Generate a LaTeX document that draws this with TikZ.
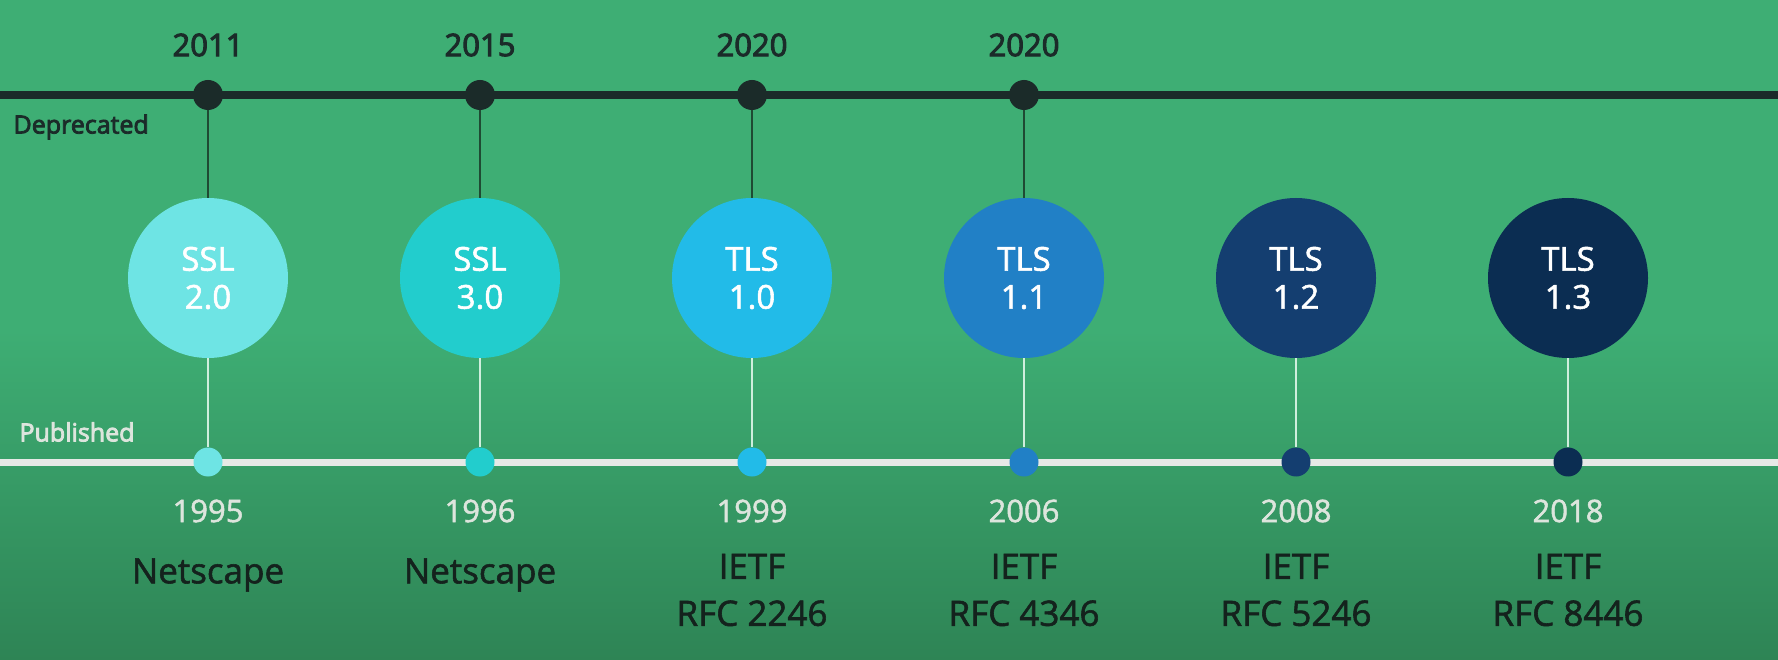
\documentclass[tikz,border=0pt]{standalone}
\usepackage{fontspec}
\setmainfont{Open Sans}
\newfontfamily\semifont{Open Sans}[FakeBold=3.2]
\newfontfamily\medfont{Open Sans}[FakeBold=1.6]

\definecolor{bgtop}{HTML}{3EAE74}
\definecolor{bgbot}{HTML}{2E8455}
\definecolor{darkline}{HTML}{1B2B29}
\definecolor{lightline}{HTML}{E6E9E6}
\definecolor{upconn}{HTML}{1F4A33}
\definecolor{downconn}{HTML}{CFEEDD}
\definecolor{ssltwo}{HTML}{6EE4E4}
\definecolor{sslthree}{HTML}{22CDCD}
\definecolor{tlsten}{HTML}{22BBE8}
\definecolor{tlseleven}{HTML}{2180C6}
\definecolor{tlstwelve}{HTML}{143E70}
\definecolor{tlsthirteen}{HTML}{0B2D52}
\definecolor{yeargray}{HTML}{DDE5DD}
\definecolor{orgdark}{HTML}{14221D}

\tikzset{
  depdot/.style={circle,fill=darkline,minimum size=30pt,inner sep=0pt},
  pubdot/.style={circle,minimum size=29pt,inner sep=0pt},
  version/.style={circle,minimum size=160pt,inner sep=0pt,text=white,align=center,
    font=\medfont\fontsize{33}{38}\selectfont},
  depyear/.style={text=darkline,font=\semifont\fontsize{31}{36}\selectfont},
  pubyear/.style={text=yeargray,font=\medfont\fontsize{31}{36}\selectfont},
  org/.style={text=orgdark,align=center,font=\medfont\fontsize{35}{47}\selectfont},
  upline/.style={draw=upconn,line width=1.4pt},
  downline/.style={draw=downconn,line width=1.4pt}
}

\begin{document}
\begin{tikzpicture}[x=1pt,y=-1pt]
	% background
	\fill[bgtop] (0,0) rectangle (1778,331);
	\shade[top color=bgtop,bottom color=bgbot] (0,330) rectangle (1778,660);
	\useasboundingbox (0,0) rectangle (1778,660);

	% the two time lines
	\coordinate (dep-l) at (0,95);
	\coordinate (dep-r) at (1778,95);
	\coordinate (pub-l) at (0,462);
	\coordinate (pub-r) at (1778,462);
	\draw[darkline,line width=8pt] (dep-l) -- (dep-r);
	\draw[lightline,line width=7pt] (pub-l) -- (pub-r);

	\node[anchor=west,text=darkline,font=\semifont\fontsize{25}{28}\selectfont] (deplabel) at (10,127) {Deprecated};
	\node[anchor=west,text=yeargray,font=\semifont\fontsize{25}{28}\selectfont] (publabel) at (16,432) {Published};

	% deprecated
	\node[depyear] (dy-1) at (208,45) {2011};
	\node[depyear] (dy-2) at (480,45) {2015};
	\node[depyear] (dy-3) at (752,45) {2020};
	\node[depyear] (dy-4) at (1024,45) {2020};

	\node[depdot] (dep-1) at (208,95) {};
	\node[depdot] (dep-2) at (480,95) {};
	\node[depdot] (dep-3) at (752,95) {};
	\node[depdot] (dep-4) at (1024,95) {};

	% versions
	\node[version,fill=ssltwo]      (ver-1) at (208,278)  {SSL\\2.0};
	\node[version,fill=sslthree]    (ver-2) at (480,278)  {SSL\\3.0};
	\node[version,fill=tlsten]      (ver-3) at (752,278)  {TLS\\1.0};
	\node[version,fill=tlseleven]   (ver-4) at (1024,278) {TLS\\1.1};
	\node[version,fill=tlstwelve]   (ver-5) at (1296,278) {TLS\\1.2};
	\node[version,fill=tlsthirteen] (ver-6) at (1568,278) {TLS\\1.3};

	% published
	\node[pubdot,fill=ssltwo]      (pub-1) at (208,462)  {};
	\node[pubdot,fill=sslthree]    (pub-2) at (480,462)  {};
	\node[pubdot,fill=tlsten]      (pub-3) at (752,462)  {};
	\node[pubdot,fill=tlseleven]   (pub-4) at (1024,462) {};
	\node[pubdot,fill=tlstwelve]   (pub-5) at (1296,462) {};
	\node[pubdot,fill=tlsthirteen] (pub-6) at (1568,462) {};

	\node[pubyear] (py-1) at (208,511)  {1995};
	\node[pubyear] (py-2) at (480,511)  {1996};
	\node[pubyear] (py-3) at (752,511)  {1999};
	\node[pubyear] (py-4) at (1024,511) {2006};
	\node[pubyear] (py-5) at (1296,511) {2008};
	\node[pubyear] (py-6) at (1568,511) {2018};

	\node[org] (org-1) at (208,575)  {Netscape};
	\node[org] (org-2) at (480,575)  {Netscape};
	\node[org] (org-3) at (752,590)  {IETF\\RFC 2246};
	\node[org] (org-4) at (1024,590) {IETF\\RFC 4346};
	\node[org] (org-5) at (1296,590) {IETF\\RFC 5246};
	\node[org] (org-6) at (1568,590) {IETF\\RFC 8446};

	\path[upline] (dep-1) edge (ver-1);
	\path[upline] (dep-2) edge (ver-2);
	\path[upline] (dep-3) edge (ver-3);
	\path[upline] (dep-4) edge (ver-4);

	\path[downline] (ver-1) edge (pub-1);
	\path[downline] (ver-2) edge (pub-2);
	\path[downline] (ver-3) edge (pub-3);
	\path[downline] (ver-4) edge (pub-4);
	\path[downline] (ver-5) edge (pub-5);
	\path[downline] (ver-6) edge (pub-6);

\end{tikzpicture}
\end{document}
